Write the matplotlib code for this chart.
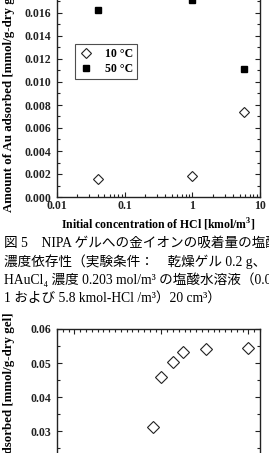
import matplotlib
matplotlib.use('Agg')
import matplotlib.pyplot as plt
from matplotlib.ticker import MultipleLocator, LogLocator, NullFormatter, FormatStrFormatter, FixedLocator, FixedFormatter

# ---- data: Fig.5 (top chart) ----
hcl_conc = [0.04, 1.0, 5.8]
ads_10C = [0.00155, 0.0018, 0.0074]
ads_50C = [0.0163, 0.0171, 0.0111]
series_labels = ['10 °C', '50 °C']
x_ticks_top = [0.01, 0.1, 1, 10]
x_ticklabels_top = ['0.01', '0.1', '1', '10']

# ---- data: Fig.6 (bottom chart, partially visible) ----
fig6_x = [54, 60, 68, 75, 91, 120]
fig6_y = [0.0312, 0.0459, 0.0503, 0.0532, 0.0540, 0.0544]

# ---- text ----
ylabel = 'Amount of Au adsorbed [mmol/g-dry gel]'
xlabel_top = 'Initial concentration of HCl [kmol/m$^{\\mathbf{3}}$]'
caption = [
    '図 5　NIPA ゲルへの金イオンの吸着量の塩酸',
    '濃度依存性（実験条件：　乾燥ゲル 0.2 g、',
    'HAuCl₄ 濃度 0.203 mol/m³ の塩酸水溶液（0.04、',
    '1 および 5.8 kmol-HCl /m³）20 cm³）',
]

plt.rcParams['font.family'] = ['Liberation Serif']
plt.rcParams['font.weight'] = 'bold'
plt.rcParams['axes.labelweight'] = 'bold'
plt.rcParams['mathtext.fontset'] = 'custom'
plt.rcParams['mathtext.bf'] = 'Liberation Serif:bold'
plt.rcParams['mathtext.rm'] = 'Liberation Serif:bold'

W, H = 269, 453
fig = plt.figure(figsize=(W / 100, H / 100), dpi=100)

def fx(px):
    return px / W

def fy(py):
    return 1 - py / H

tick_kw = dict(direction='in', top=True, right=True, width=0.8, colors='#222222')

# ---------- top chart ----------
ax1 = fig.add_axes([fx(57), fy(197), fx(203), 230 / H])
ax1.set_xscale('log')
ax1.set_xlim(0.01, 10)
ax1.set_ylim(0.0, 0.020)
ax1.plot(hcl_conc, ads_10C, linestyle='none', marker='D', markersize=5,
         markerfacecolor='white', markeredgecolor='#222222', markeredgewidth=0.8,
         label=series_labels[0])
ax1.plot(hcl_conc, ads_50C, linestyle='none', marker='s', markersize=4.5,
         markerfacecolor='black', markeredgecolor='black', label=series_labels[1])
ax1.xaxis.set_major_locator(FixedLocator(x_ticks_top))
ax1.xaxis.set_major_formatter(FixedFormatter(x_ticklabels_top))
ax1.xaxis.set_minor_locator(LogLocator(base=10, subs=range(2, 10)))
ax1.xaxis.set_minor_formatter(NullFormatter())
ax1.yaxis.set_major_locator(MultipleLocator(0.002))
ax1.yaxis.set_minor_locator(MultipleLocator(0.001))
ax1.yaxis.set_major_formatter(FormatStrFormatter('%.3f'))
ax1.tick_params(which='major', length=3.5, labelsize=8.5, pad=2.5, **tick_kw)
ax1.tick_params(which='minor', length=2, **tick_kw)
ax1.tick_params(axis='y', which='major', pad=4)
for s in ax1.spines.values():
    s.set_linewidth(1.0)
    s.set_color('#222222')
leg = ax1.legend(loc='upper left', bbox_to_anchor=((75 - 57) / 203, (197 - 44) / 230),
                 borderaxespad=0, frameon=True, fancybox=False, fontsize=8.5,
                 handlelength=1.2, handletextpad=1.0, borderpad=0.35, labelspacing=0.25,
                 edgecolor='#222222')
leg.get_frame().set_linewidth(0.8)
ax1.set_xlabel(xlabel_top, fontsize=8.5, fontweight='bold', labelpad=3)

fig.text(fx(9), fy(212), ylabel, rotation=90, ha='center', va='bottom', fontsize=9.3,
         fontweight='bold')

# ---------- caption ----------
cap_y = [243, 262, 280, 298]
for line, y in zip(caption, cap_y):
    fig.text(fx(4), fy(y), line, ha='left', va='center', fontsize=9.8, fontweight='normal',
             family=['Liberation Serif', 'Noto Sans CJK JP', 'DejaVu Serif'])

# ---------- bottom chart ----------
ax2 = fig.add_axes([fx(57), fy(533), fx(203), 204 / H])
ax2.set_xlim(-12, 128)
ax2.set_ylim(0.0, 0.06)
ax2.plot(fig6_x, fig6_y, linestyle='none', marker='D', markersize=6,
         markerfacecolor='white', markeredgecolor='#222222', markeredgewidth=0.8)
ax2.xaxis.set_major_locator(MultipleLocator(60))
ax2.xaxis.set_minor_locator(MultipleLocator(4))
ax2.yaxis.set_major_locator(MultipleLocator(0.01))
ax2.yaxis.set_minor_locator(MultipleLocator(0.005))
ax2.yaxis.set_major_formatter(FormatStrFormatter('%.2f'))
ax2.tick_params(which='major', length=3.5, labelsize=8.5, pad=4, **tick_kw)
ax2.tick_params(which='minor', length=2, **tick_kw)
ax2.tick_params(axis='x', labelbottom=False)
for s in ax2.spines.values():
    s.set_linewidth(1.0)
    s.set_color('#222222')
fig.text(fx(9), fy(312), ylabel, rotation=90, ha='center', va='top', fontsize=9.3,
         fontweight='bold')

fig.savefig('out.png', dpi=100)
